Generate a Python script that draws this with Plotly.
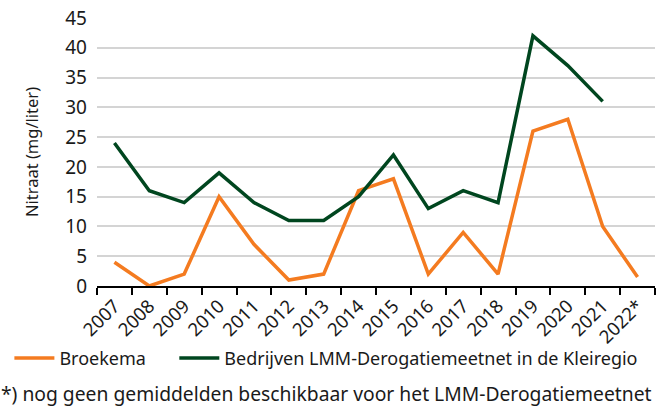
import plotly.graph_objects as go

years = ["2007", "2008", "2009", "2010", "2011", "2012", "2013", "2014",
         "2015", "2016", "2017", "2018", "2019", "2020", "2021", "2022*"]
broekema = [4, 0, 2, 15, 7, 1, 2, 16, 18, 2, 9, 2, 26, 28, 10, 1.5]
lmm = [24, 16, 14, 19, 14, 11, 11, 15, 22, 13, 16, 14, 42, 37, 31, None]

FONT = "Noto Sans"
PAD = "\u00a0" * 5

fig = go.Figure()
fig.add_trace(go.Scatter(x=years, y=broekema, mode="lines", name="Broekema" + PAD,
                         line=dict(color="#F47B20", width=3.5)))
fig.add_trace(go.Scatter(x=years, y=lmm, mode="lines",
                         name="Bedrijven LMM-Derogatiemeetnet in de Kleiregio",
                         line=dict(color="#00461F", width=3.5)))

fig.update_layout(
    width=669, height=408,
    margin=dict(l=97, r=14, t=18, b=122, autoexpand=False),
    paper_bgcolor="white", plot_bgcolor="white",
    font=dict(family=FONT, size=18, color="#1a1a1a"),
    showlegend=True,
    legend=dict(orientation="h", x=-0.157, xanchor="left", y=-0.27, yanchor="middle",
                font=dict(size=18), itemwidth=40, tracegroupgap=0,
                bgcolor="rgba(0,0,0,0)"),
    annotations=[dict(text="*) nog geen gemiddelden beschikbaar voor het LMM-Derogatiemeetnet",
                      xref="paper", yref="paper", x=-0.175, y=-0.40,
                      xanchor="left", yanchor="middle", showarrow=False,
                      font=dict(size=19.3, family=FONT))],
)
fig.update_xaxes(type="category", tickson="boundaries", ticks="outside", ticklen=7,
                 tickwidth=2, tickcolor="black", showline=True, linecolor="black",
                 linewidth=2, showgrid=False, tickangle=-45, tickfont=dict(size=18.5),
                 range=[-0.5, len(years) - 0.5], automargin=False)
fig.update_yaxes(range=[0, 45], dtick=5, showgrid=True, gridcolor="#d4d4d4", gridwidth=2,
                 zeroline=False, showline=False, ticks="", tickfont=dict(size=19),
                 ticklabelstandoff=9, automargin=False,
                 title=dict(text="Nitraat (mg/liter)", font=dict(size=16.5), standoff=22))

fig.write_html("out.html", config={"displayModeBar": False},
               post_script="document.body.style.margin='0';")
